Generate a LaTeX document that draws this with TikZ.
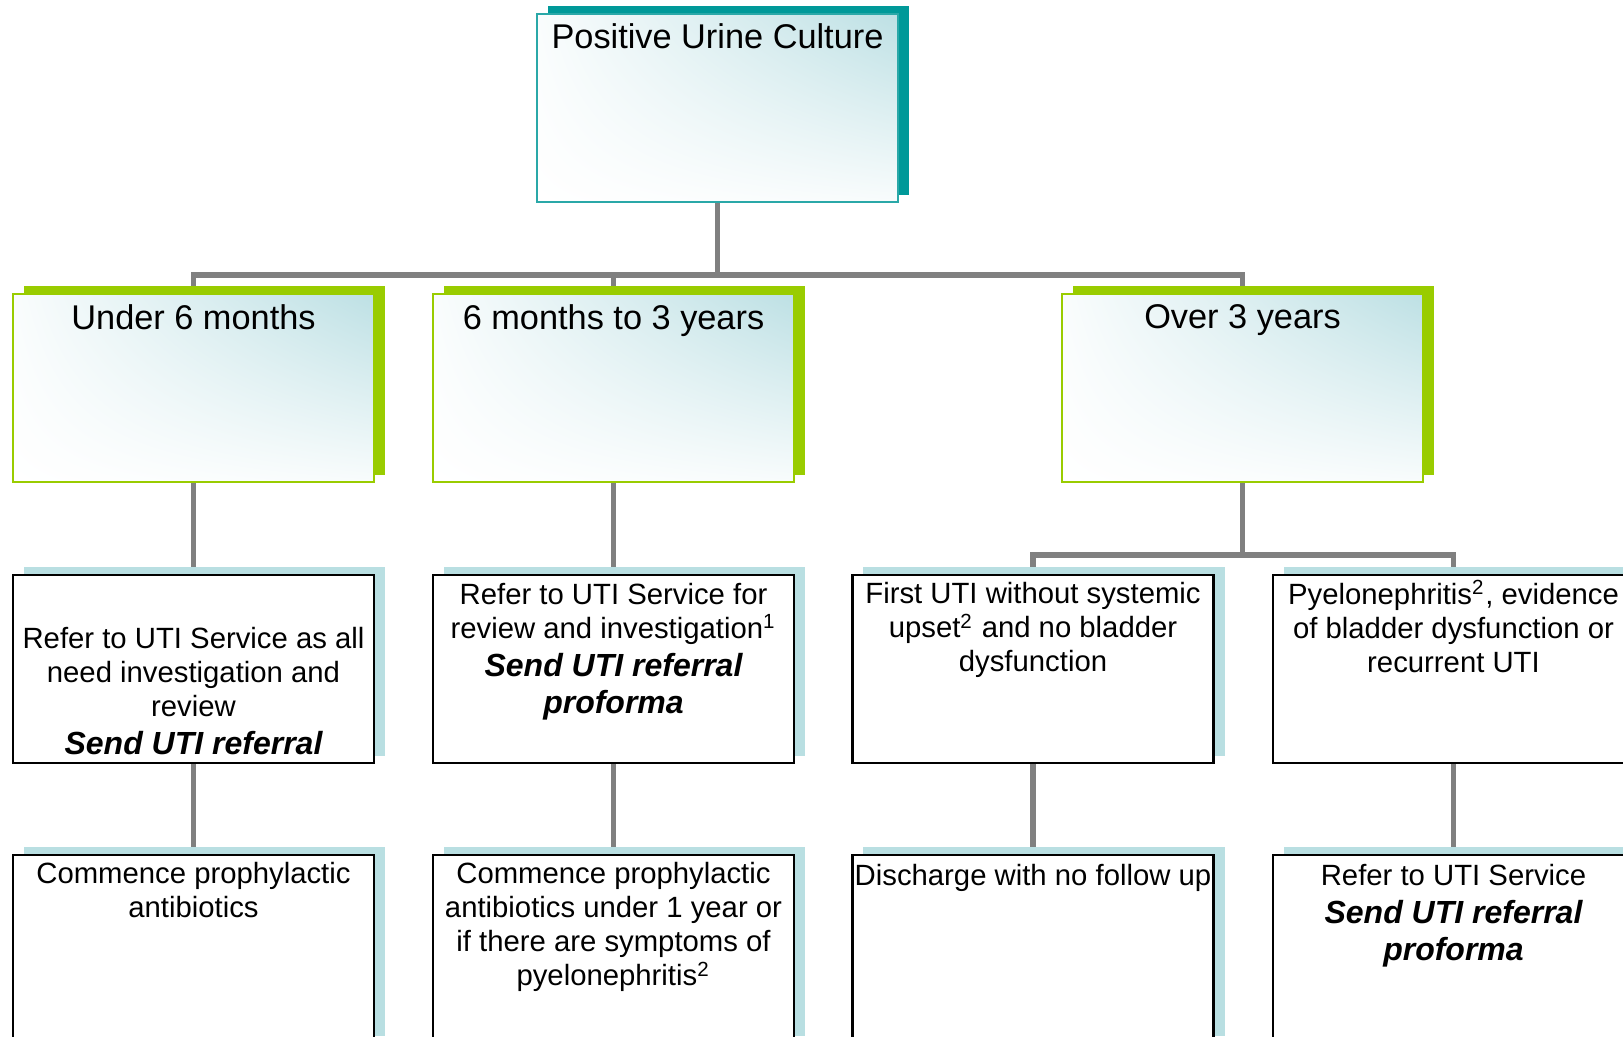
\documentclass[tikz,border=0pt]{standalone}
\usepackage{fontspec}
\setmainfont{Liberation Sans}
\usetikzlibrary{shadings,shadows,backgrounds}
\definecolor{tealShd}{HTML}{009999}
\definecolor{tealLine}{HTML}{2AA8A8}
\definecolor{ageGreen}{HTML}{99CC00}
\definecolor{paleBlue}{HTML}{B9DFE2}
\definecolor{glow}{HTML}{BDE0E4}
\definecolor{connGrey}{HTML}{808080}
\newcommand\hdfont{\fontsize{9.76}{11.5}\selectfont}
\newcommand\bdfont{\fontsize{8.33}{9.67}\selectfont}
\newcommand\sendit[1]{{\fontsize{9.1}{9.67}\selectfont\bfseries\itshape #1}}
\newcommand\fnmark[1]{\smash{\textsuperscript{#1}}}

\begin{document}
\begin{tikzpicture}[x=0.01cm,y=-0.01cm,line join=miter,
    box/.style={minimum width=3.61cm,minimum height=1.88cm,inner sep=0pt,outer sep=0pt},
    glowfill/.style={shade,shading=bilinear interpolation,upper left=glow!8,upper right=glow,lower left=white,lower right=glow!10},
    rootbox/.style={box,glowfill,draw=tealLine,line width=0.6pt,
      general shadow={fill=tealShd,shadow xshift=1.1mm,shadow yshift=0.75mm}},
    agebox/.style={box,glowfill,draw=ageGreen,line width=0.75pt,
      general shadow={fill=ageGreen,shadow xshift=1.1mm,shadow yshift=0.75mm}},
    actbox/.style={box,fill=white,draw=black,line width=0.7pt,
      general shadow={fill=paleBlue,shadow xshift=1.1mm,shadow yshift=0.75mm}},
    hdtxt/.style={anchor=north,inner sep=0pt,align=center,font=\hdfont},
    bdtxt/.style={anchor=north,inner sep=0pt,align=center,font=\bdfont},
    conn/.style={draw=connGrey,line width=1.6pt}]
  \useasboundingbox (0,0) rectangle (1623,1037);
  \clip (0,0) rectangle (1623,1037);

  % boxes
  \node[rootbox] (root) at (717.5,108) {};
  \node[agebox] (under) at (193.5,388) {};
  \node[agebox] (mid) at (613.5,388) {};
  \node[agebox] (over) at (1242.5,388) {};
  \node[actbox] (refA) at (193.5,669) {};
  \node[actbox] (refB) at (613.5,669) {};
  \node[actbox] (firstU) at (1033,669) {};
  \node[actbox] (pyelo) at (1453.5,669) {};
  \node[actbox] (proA) at (193.5,949) {};
  \node[actbox] (proB) at (613.5,949) {};
  \node[actbox] (disch) at (1033,949) {};
  \node[actbox] (refC) at (1453.5,949) {};

  % texts
  \node[hdtxt] (rootT) at (717.5,23) {Positive Urine Culture};
  \node[hdtxt] (underT) at (193.5,304) {Under 6 months};
  \node[hdtxt] (midT) at (613.5,304) {6 months to 3 years};
  \node[hdtxt] (overT) at (1242.5,304) {Over 3 years};
  \node[bdtxt] (refAT) at (193.5,627) {Refer to UTI Service as all\\need investigation and\\review\\[0.9pt]\sendit{Send UTI referral}};
  \node[bdtxt] (refBT) at (613.5,583) {Refer to UTI Service for\\review and investigation\fnmark{1}\\[0.9pt]\sendit{Send UTI referral}\\[0.9pt]\sendit{proforma}};
  \node[bdtxt] (firstUT) at (1033,582) {First UTI without systemic\\upset\fnmark{2} and no bladder\\dysfunction};
  \node[bdtxt] (pyeloT) at (1453.5,583) {Pyelonephritis\fnmark{2}, evidence\\of bladder dysfunction or\\recurrent UTI};
  \node[bdtxt] (proAT) at (193.5,862) {Commence prophylactic\\antibiotics};
  \node[bdtxt] (proBT) at (613.5,862) {Commence prophylactic\\antibiotics under 1 year or\\if there are symptoms of\\pyelonephritis\fnmark{2}};
  \node[bdtxt] (dischT) at (1033,864) {Discharge with no follow up};
  \node[bdtxt] (refCT) at (1453.5,864) {Refer to UTI Service\\[0.9pt]\sendit{Send UTI referral}\\[0.9pt]\sendit{proforma}};

  % connectors
  \coordinate (split) at (717.5,275);
  \coordinate (splitO) at (1242.5,555);
  \begin{scope}[on background layer]
    \draw[conn] (root.south) -- (split);
    \draw[conn] (under.north) |- (split) -| (over.north);
    \draw[conn] (mid.north) -- (mid.north |- split);
    \draw[conn] (over.south) -- (splitO);
    \draw[conn] (firstU.north) |- (splitO) -| (pyelo.north);
    \draw[conn] (under.south) -- (refA.north);
    \draw[conn] (mid.south) -- (refB.north);
    \draw[conn] (refA.south) -- (proA.north);
    \draw[conn] (refB.south) -- (proB.north);
    \draw[conn] (firstU.south) -- (disch.north);
    \draw[conn] (pyelo.south) -- (refC.north);
  \end{scope}
\end{tikzpicture}
\end{document}
